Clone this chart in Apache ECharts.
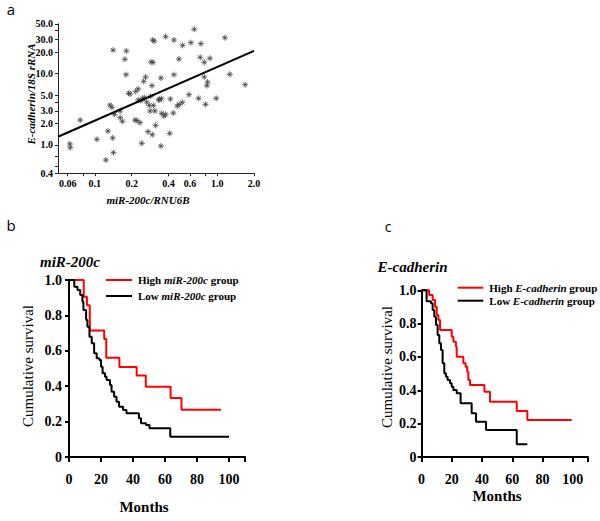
<!DOCTYPE html>
<html><head><meta charset="utf-8">
<script src="https://cdn.jsdelivr.net/npm/echarts@6/dist/echarts.min.js"></script>
<style>html,body{margin:0;padding:0;background:#fff}#c{width:600px;height:521px}</style>
</head><body><div id="c"></div>
<script>
// ---------- Panel a: scatter (log-log) ----------
const scatterX = [0.650,0.379,0.297,0.306,0.443,1.156,0.522,0.610,0.736,0.141,0.181,0.176,0.288,0.299,0.487,0.872,0.727,0.784,0.180,1.269,0.443,0.347,0.260,0.251,0.784,0.835,0.824,0.293,1.693,0.226,0.216,0.189,0.194,0.588,0.254,0.246,0.226,0.237,0.286,0.337,0.350,0.333,0.414,0.519,0.490,0.472,0.705,0.982,0.804,0.133,0.138,0.145,0.161,0.265,0.279,0.301,0.283,0.310,0.352,0.367,0.379,0.438,0.161,0.168,0.213,0.221,0.234,0.314,0.0759,0.128,0.272,0.295,0.409,0.104,0.140,0.242,0.347,0.0625,0.0629,0.142,0.123];
const scatterY = [41.8,33.0,29.6,28.7,29.6,31.9,24.9,27.2,26.3,21.4,20.8,15.9,14.5,14.4,16.0,16.4,16.9,14.4,9.66,9.77,9.66,8.68,8.96,7.79,8.96,7.62,6.77,6.77,6.99,6.08,5.64,5.29,5.17,5.06,4.59,4.45,4.26,4.17,4.80,4.35,4.45,4.26,4.40,3.95,3.70,3.51,4.50,4.50,3.70,3.62,3.36,2.68,2.99,3.99,3.58,3.58,2.99,2.99,2.77,2.54,2.68,2.80,2.41,2.14,2.23,2.19,2.05,1.88,2.23,1.56,1.53,1.39,1.45,1.195,1.25,1.05,0.963,1.03,0.913,0.777,0.613];
const fitX = [0.05, 2.0];
const fitY = [1.30, 20.8];
const aXLabels = [0.06,0.1,0.2,0.4,0.6,1.0,2.0];
const aXTicks = [0.06,0.08,0.1,0.2,0.4,0.6,0.8,1.0,2.0];
const aYLabels = [0.4,1.0,2.0,3.0,5.0,10.0,20.0,30.0,50.0];
const aYTicks = [0.4,0.5,0.7,1.0,2.0,3.0,4.0,5.0,10.0,20.0,30.0,40.0,50.0];

// ---------- Panel b: miR-200c survival ----------
const bHighT = [0,9.2,11.2,13,22,23.3,31.5,42.3,48,63.5,70.3,95];
const bHighS = [1,0.905,0.857,0.714,0.667,0.561,0.508,0.46,0.397,0.333,0.267,0.267];
const bLowT = [0,3.3,5.3,7,8.4,9,10.7,11.5,12.8,14.2,15.7,17.3,19,20,21,22.5,23.5,25.6,26.6,28.2,29.7,31.3,33.8,35.9,43.7,45,48.1,50.3,63.3,100];
const bLowS = [1,0.962,0.943,0.915,0.877,0.831,0.774,0.736,0.68,0.642,0.586,0.558,0.548,0.51,0.473,0.454,0.435,0.407,0.369,0.341,0.312,0.284,0.266,0.247,0.219,0.19,0.181,0.162,0.115,0.115];

// ---------- Panel c: E-cadherin survival ----------
const cHighT = [0,5,7.3,8.9,10,11.1,12.2,19.9,21,22.7,23.2,27.6,29.1,30.2,30.9,32,41.5,45.2,62.9,69.9,99.2];
const cHighS = [1,0.972,0.942,0.902,0.852,0.822,0.762,0.722,0.692,0.662,0.602,0.562,0.542,0.512,0.462,0.432,0.392,0.332,0.276,0.222,0.222];
const cLowT = [0,3.3,6.2,7.3,8.4,9.5,10.6,11.7,12.8,13.9,15,16.1,17.2,18.8,19.9,21,23.2,25.8,33.1,36,42.6,62.9,69.9];
const cLowS = [1,0.935,0.922,0.882,0.842,0.792,0.732,0.682,0.642,0.562,0.502,0.482,0.462,0.442,0.422,0.402,0.382,0.322,0.262,0.212,0.162,0.076,0.076];

const monthLabels = [0,20,40,60,80,100];
const monthTicks = [0,20,40,60,80,100,110];
const survTicks = [0,0.2,0.4,0.6,0.8,1.0];

const zip = (a, b) => a.map((v, i) => [v, b[i]]);
const SERIF = '"Liberation Serif", "Times New Roman", serif';

const chart = echarts.init(document.getElementById('c'), null, {renderer: 'svg'});

function kmX(gi) {
  return {
    type: 'value', gridIndex: gi, min: 0, max: 110,
    axisLine: {show: true, onZero: false, lineStyle: {color: '#000', width: 2}},
    axisTick: {show: true, customValues: monthTicks, length: 5, lineStyle: {color: '#000', width: 2}},
    axisLabel: {customValues: monthLabels, margin: 15, color: '#000', fontFamily: SERIF, fontWeight: 'bold', fontSize: 14},
    splitLine: {show: false}
  };
}
function kmY(gi, margin) {
  return {
    type: 'value', gridIndex: gi, min: 0, max: 1,
    axisLine: {show: true, onZero: false, lineStyle: {color: '#000', width: 2}},
    axisTick: {show: true, customValues: survTicks, length: 4, lineStyle: {color: '#000', width: 2}},
    axisLabel: {customValues: survTicks, margin: margin, color: '#000', fontFamily: SERIF, fontWeight: 'bold', fontSize: 14,
      formatter: v => v === 0 ? '0' : v.toFixed(1)},
    splitLine: {show: false}
  };
}
function km(name, T, S, color, gi) {
  return {
    name, type: 'line', xAxisIndex: gi, yAxisIndex: gi, step: 'end',
    data: zip(T, S), showSymbol: false, symbol: 'none', silent: true,
    lineStyle: {color, width: 2}, animation: false, clip: false
  };
}
function txt(x, y, text, font, opts) {
  return Object.assign({type: 'text', x, y, silent: true,
    style: Object.assign({text, font, fill: '#000', align: 'center', verticalAlign: 'middle'}, (opts && opts.style) || {})},
    (opts && opts.rotation) ? {rotation: opts.rotation} : {});
}
function legendItem(x1, x2, y, color, pre, it, post) {
  return [
    {type: 'line', silent: true, shape: {x1, y1: y, x2, y2: y}, style: {stroke: color, lineWidth: 2}},
    {type: 'text', x: x2 + 6, y, silent: true, style: {
      text: '{n|' + pre + '}{i|' + it + '}{n|' + post + '}',
      align: 'left', verticalAlign: 'middle', fill: '#000',
      rich: {
        n: {fontFamily: SERIF, fontWeight: 'bold', fontSize: 11, fill: '#000'},
        i: {fontFamily: SERIF, fontWeight: 'bold', fontStyle: 'italic', fontSize: 11, fill: '#000'}
      }}}
  ];
}

const option = {
  backgroundColor: '#fff',
  animation: false,
  grid: [
    {left: 58, top: 23.8, width: 196, height: 149.4, containLabel: false, outerBoundsMode: 'none'},
    {left: 69, top: 280, width: 176, height: 177, containLabel: false, outerBoundsMode: 'none'},
    {left: 421.6, top: 290.3, width: 166.4, height: 166.7, containLabel: false, outerBoundsMode: 'none'}
  ],
  xAxis: [
    {type: 'log', gridIndex: 0, min: 0.05, max: 2.0, logBase: 10,
      axisLine: {show: true, onZero: false, lineStyle: {color: '#222', width: 1}},
      axisTick: {show: true, customValues: aXTicks, length: 3, lineStyle: {color: '#222'}},
      axisLabel: {customValues: aXLabels, margin: 5, color: '#000', fontFamily: SERIF, fontWeight: 'bold', fontSize: 10,
        formatter: v => (v >= 1 ? (+v).toFixed(1) : String(+(+v).toPrecision(2)))},
      splitLine: {show: false}, minorTick: {show: false}},
    kmX(1), kmX(2)
  ],
  yAxis: [
    {type: 'log', gridIndex: 0, min: 0.4, max: 50, logBase: 10,
      axisLine: {show: true, onZero: false, lineStyle: {color: '#222', width: 1}},
      axisTick: {show: true, customValues: aYTicks, length: 3, lineStyle: {color: '#222'}},
      axisLabel: {customValues: aYLabels, margin: 5, color: '#000', fontFamily: SERIF, fontWeight: 'bold', fontSize: 10,
        formatter: v => (+v).toFixed(1)},
      splitLine: {show: false}, minorTick: {show: false}},
    kmY(1, 7), kmY(2, 5)
  ],
  series: [
    {type: 'scatter', xAxisIndex: 0, yAxisIndex: 0, data: zip(scatterX, scatterY), silent: true,
      symbol: 'path://M5,0L5,10M0,5L10,5M1.5,1.5L8.5,8.5M1.5,8.5L8.5,1.5', symbolSize: 6,
      itemStyle: {color: 'rgba(0,0,0,0)', borderColor: '#444', borderWidth: 1}},
    {type: 'line', xAxisIndex: 0, yAxisIndex: 0, data: zip(fitX, fitY), showSymbol: false, symbol: 'none', silent: true,
      lineStyle: {color: '#000', width: 2}},
    km('High miR-200c group', bHighT, bHighS, '#ff0000', 1),
    km('Low miR-200c group', bLowT, bLowS, '#000000', 1),
    km('High E-cadherin group', cHighT, cHighS, '#ff0000', 2),
    km('Low E-cadherin group', cLowT, cLowS, '#000000', 2)
  ],
  graphic: [
    txt(11, 9, 'a', '15px "Open Sans", sans-serif'),
    txt(11, 225, 'b', '15px "Open Sans", sans-serif'),
    txt(388, 226, 'c', '14px "Open Sans", sans-serif'),
    txt(31, 94, 'E-cadherin/18S rRNA', 'italic bold 11px ' + SERIF, {rotation: Math.PI / 2}),
    txt(148, 200, 'miR-200c/RNU6B', 'italic bold 11px ' + SERIF),
    txt(70, 262, 'miR-200c', 'italic bold 15px ' + SERIF),
    txt(144, 507, 'Months', 'bold 15px ' + SERIF),
    txt(28, 366, 'Cumulative survival', '15px ' + SERIF, {rotation: Math.PI / 2}),
    txt(412.5, 267, 'E-cadherin', 'italic bold 15px ' + SERIF),
    txt(497, 496, 'Months', 'bold 15px ' + SERIF),
    txt(387, 367, 'Cumulative survival', '15px ' + SERIF, {rotation: Math.PI / 2}),
    ...legendItem(106, 132, 280, '#ff0000', 'High ', 'miR-200c', ' group'),
    ...legendItem(106, 132, 296, '#000000', 'Low ', 'miR-200c', ' group'),
    ...legendItem(457.7, 483.3, 287.7, '#ff0000', 'High ', 'E-cadherin', ' group'),
    ...legendItem(457.7, 483.3, 300.7, '#000000', 'Low ', 'E-cadherin', ' group')
  ]
};
chart.setOption(option);
</script>
</body></html>
